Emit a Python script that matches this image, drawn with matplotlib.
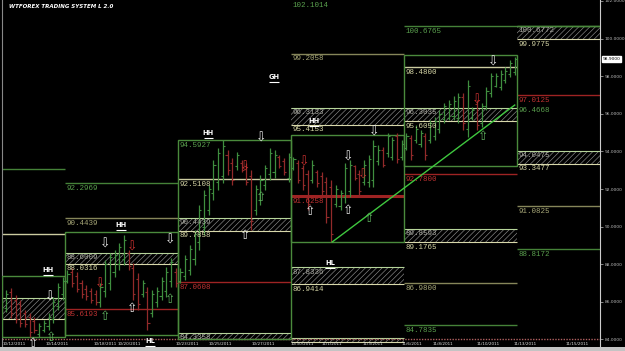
import matplotlib
matplotlib.use("Agg")
import matplotlib.pyplot as plt
from matplotlib.patches import Rectangle
import matplotlib.transforms as mtrans

# ---------------- data ----------------
# OHLC bars per week (price units)
week0_ohlc = [
    (85.7, 86.63, 85.46, 86.4), (86.5, 86.73, 85.14, 85.4), (86.1, 86.36, 84.87, 85.1),
    (85.9, 86.10, 84.66, 84.9), (85.4, 85.56, 84.66, 84.8), (85.2, 85.40, 84.13, 84.4),
    (85.0, 85.19, 84.34, 84.5), (84.3, 84.87, 84.13, 84.7), (84.5, 85.03, 84.39, 84.9),
    (84.7, 85.40, 84.50, 85.2), (85.1, 86.25, 84.87, 86.0), (85.8, 87.00, 85.56, 86.8),
    (86.4, 87.32, 86.10, 87.1)]
week1_ohlc = [
    (87.1, 87.69, 87.00, 87.5), (87.6, 87.80, 86.79, 87.0), (87.4, 87.58, 86.52, 86.7),
    (87.0, 87.16, 86.20, 86.4), (86.7, 86.89, 86.10, 86.3), (86.6, 86.73, 85.94, 86.1),
    (86.4, 86.63, 85.83, 86.0), (86.0, 87.00, 85.72, 86.8), (86.6, 88.22, 86.25, 88.0),
    (87.0, 88.60, 86.63, 88.4), (87.6, 88.76, 87.32, 88.5), (88.0, 89.13, 87.69, 88.9),
    (88.3, 89.55, 87.95, 89.3), (88.6, 88.76, 87.69, 87.9), (87.8, 88.06, 86.10, 86.4),
    (87.2, 87.53, 85.56, 85.9), (86.4, 87.16, 86.25, 87.0), (86.5, 86.79, 84.50, 84.9),
    (85.4, 86.63, 85.19, 86.4), (86.0, 86.79, 85.72, 86.6), (86.3, 87.32, 86.10, 87.1),
    (86.6, 87.85, 86.25, 87.6), (87.1, 88.33, 86.79, 88.1), (87.6, 87.80, 86.79, 87.0)]
week2_ohlc = [
    (87.1, 87.80, 87.00, 87.6), (87.4, 88.49, 87.16, 88.3), (87.7, 89.02, 87.43, 88.8),
    (88.3, 89.82, 87.95, 89.6), (89.2, 91.15, 88.76, 90.9), (90.0, 91.95, 89.55, 91.7),
    (90.9, 92.21, 90.62, 92.0), (91.8, 93.54, 91.41, 93.3), (92.4, 94.18, 91.95, 93.9),
    (92.7, 94.61, 92.32, 94.3), (93.8, 94.07, 92.74, 93.0), (93.4, 93.65, 92.21, 92.5),
    (93.2, 93.97, 93.01, 93.8), (93.4, 93.54, 92.90, 93.0), (93.2, 93.38, 92.21, 92.4),
    (92.7, 93.01, 89.82, 90.3), (90.9, 92.21, 90.62, 92.0), (91.4, 92.74, 91.15, 92.5),
    (92.2, 93.28, 91.95, 93.1), (92.8, 94.18, 92.48, 93.9), (92.9, 94.07, 92.58, 93.8),
    (93.7, 93.81, 93.12, 93.2), (93.5, 93.65, 92.74, 92.9), (92.6, 93.92, 92.37, 93.7)]
week3_ohlc = [
    (93.1, 93.70, 93.01, 93.6), (93.4, 93.54, 92.32, 92.5), (93.1, 93.28, 91.95, 92.2),
    (92.8, 93.01, 90.88, 91.2), (92.5, 93.54, 92.32, 93.3), (92.9, 93.01, 92.11, 92.3),
    (92.7, 92.90, 91.68, 91.9), (92.4, 92.64, 90.19, 90.5), (92.1, 92.48, 89.18, 89.6),
    (91.2, 92.21, 91.04, 92.0), (91.1, 91.95, 90.88, 91.8), (91.6, 93.38, 91.25, 93.1),
    (91.9, 93.54, 91.57, 93.3), (93.2, 93.28, 92.48, 92.6), (92.8, 93.01, 91.57, 91.9),
    (92.4, 93.54, 92.21, 93.3), (92.4, 93.81, 92.11, 93.6), (92.5, 94.61, 92.11, 94.3),
    (93.5, 94.34, 93.28, 94.1), (94.1, 94.23, 93.17, 93.3), (93.9, 94.98, 93.70, 94.8),
    (93.7, 94.77, 93.54, 94.6), (94.8, 94.98, 93.38, 93.6), (93.7, 94.61, 93.54, 94.4)]
week4_ohlc = [
    (94.2, 94.98, 94.07, 94.8), (94.7, 94.87, 93.54, 93.8), (94.6, 95.40, 94.45, 95.2),
    (94.4, 95.14, 94.23, 95.0), (94.8, 94.98, 93.54, 93.8), (94.6, 95.67, 94.45, 95.5),
    (94.8, 95.83, 94.61, 95.6), (95.2, 96.20, 94.98, 96.0), (95.7, 96.57, 95.51, 96.4),
    (95.8, 96.73, 95.67, 96.5), (95.9, 96.95, 95.67, 96.7), (95.8, 97.10, 95.51, 96.9),
    (96.9, 97.10, 95.14, 95.5), (95.2, 97.80, 94.77, 97.5), (95.8, 96.36, 95.67, 96.2),
    (96.5, 96.73, 95.14, 95.4), (95.5, 96.57, 95.30, 96.4), (96.4, 97.42, 96.20, 97.2),
    (97.1, 98.17, 96.89, 98.0), (97.5, 98.17, 97.42, 98.0), (97.4, 98.33, 97.26, 98.1),
    (97.8, 98.49, 97.64, 98.3), (98.1, 98.86, 97.96, 98.7), (98.2, 99.02, 98.06, 98.9)]
weeks_ohlc = [week0_ohlc, week1_ohlc, week2_ohlc, week3_ohlc, week4_ohlc]

# weekly boxes: (week, top, bottom)
box_week = [0, 1, 2, 3, 4]
box_top = [87.37, 89.72, 94.5927, 94.87, 99.13]
box_bottom = [84.13, 84.23, 84.00, 89.18, 93.22]

# level lines: week (5 = projection), price, kind, labelled
line_week = [0, 0, 1, 1, 1, 2, 2, 3, 3, 4, 4, 4, 4, 4, 5, 5, 5, 5]
line_price = [93.06, 89.61, 92.2969, 90.4439, 85.6193, 92.5108, 87.0608, 99.2058, 91.6258,
              100.6765, 98.4800, 92.7800, 86.9800, 84.7835, 100.6765, 97.0125, 91.0825, 88.8172]
line_kind = ["g", "y", "g", "o", "r", "y", "r", "o", "r2", "g", "y", "r", "o", "g", "g", "r", "o", "g"]
line_labelled = [0, 0, 1, 1, 1, 1, 1, 1, 1, 1, 1, 1, 1, 1, 0, 1, 1, 1]

# hatched zones: week, top, bottom, labelled (2 = both values, 1 = top only, 0 = none)
zone_week = [0, 1, 2, 2, 3, 3, 3, 4, 4, 5, 5]
zone_top = [86.20, 88.6009, 90.4439, 84.3358, 96.3133, 87.8336, 84.06, 96.3035, 89.8593, 100.6772, 94.0475]
zone_bottom = [85.09, 88.0316, 89.7858, 84.00, 95.4153, 86.9414, 83.88, 95.6050, 89.1765, 99.9775, 93.3477]
zone_labelled = [0, 2, 2, 1, 2, 2, 0, 2, 2, 2, 2]

# trend line (bar index, price)
trend_x = [56.7, 95.5]
trend_y = [89.18, 96.4668]

# signal arrows: bar index, price, direction, colour
arrow_x = [-3.2, -3.0, -6.8, 8.5, 14.2, 22.3, 7.4, 14.2, 8.5, 22.3, 41.6, 38.2, 41.6, 38.2,
           50.7, 60.1, 63.3, 52.0, 60.1, 64.5, 65.6, 90.9, 87.5, 88.7]
arrow_y = [86.26, 84.13, 83.80, 89.07, 88.91, 89.29, 86.95, 85.67, 85.24, 86.15, 94.71, 93.17, 91.57, 89.55,
           93.44, 93.70, 92.74, 90.78, 90.88, 90.46, 95.03, 98.76, 96.73, 94.77]
arrow_dir = ["d", "u", "u", "d", "d", "d", "d", "u", "u", "u", "d", "d", "u", "u",
             "d", "d", "d", "u", "u", "u", "d", "d", "d", "u"]
arrow_col = ["w", "g", "w", "w", "r", "w", "r", "w", "g", "g", "w", "r", "g", "w",
             "r", "w", "r", "w", "w", "g", "w", "w", "r", "g"]

# swing labels
swing_text = ["HH", "HH", "HH", "GH", "HH", "HL", "HL"]
swing_x = [-3.6, 11.9, 30.4, 44.4, 52.9, 56.3, 18.0]
swing_y = [87.69, 90.09, 94.98, 97.96, 95.62, 88.06, 83.92]

# date labels
date_text = ["10/12/2011", "10/14/2011", "10/18/2011", "10/20/2011", "10/23/2011", "10/25/2011",
             "10/27/2011", "10/30/2011", "11/1/2011", "11/3/2011", "11/6/2011", "11/8/2011",
             "11/10/2011", "11/13/2011", "11/15/2011"]
date_x = [-10.8, -1.7, 8.5, 13.6, 25.9, 32.9, 42.0, 50.3, 56.7, 65.4, 73.7, 80.3, 89.8, 97.7, 108.7]

price_ticks = [84, 86, 88, 90, 92, 94, 96, 98, 100, 102]
last_price = 98.9000
top_label = 102.1014

# ---------------- styling ----------------
GREEN = "#4a8a3c"
TREND = "#3fc83f"
YEL = "#d8d8aa"
OLIVE = "#8e8e60"
RED = "#a82626"
BAR_G = "#3f8e3f"
BAR_R = "#922a2a"
col_map = {"g": GREEN, "y": YEL, "o": OLIVE, "r": RED, "r2": RED}
lab_map = {"g": "#5aa04e", "y": "#d6d6a6", "o": "#a8a878", "r": "#c03232", "r2": "#c03232"}
arrow_cmap = {"w": "#e8e8e8", "g": "#5fb05f", "r": "#c83030"}
FONT = "Liberation Mono"
LFS = 5.4

week_edges = [-13.4, 0, 24, 48, 72, 96, 113.5]
BPW = 24

plt.rcParams["hatch.linewidth"] = 0.45

fig = plt.figure(figsize=(6.25, 3.51), dpi=100, facecolor="black")
ax = fig.add_axes([2 / 625, 4 / 351, 597.5 / 625, 347 / 351])
ax.set_facecolor("black")
ax.set_xlim(week_edges[0], week_edges[-1])
ax.set_ylim(83.60, 102.053)

# bottom grey strip
fig.patches.append(Rectangle((0, 0), 1, 4 / 351, transform=fig.transFigure,
                             facecolor="#c4c4c4", edgecolor="none"))

# hatched zones
for w, t, b, lab in zip(zone_week, zone_top, zone_bottom, zone_labelled):
    x0, x1 = week_edges[w], week_edges[w + 1]
    ax.add_patch(Rectangle((x0, b), x1 - x0, t - b, facecolor="black",
                           edgecolor="#8c8c8c", hatch="//////", lw=0, zorder=1))
    ax.hlines(t, x0, x1, color="#b6d49a", lw=0.8, zorder=2)
    ax.hlines(b, x0, x1, color=YEL, lw=0.8, zorder=2)
    if lab >= 1:
        ax.text(x0 + 0.3, t - 0.06, f"{t:.4f}", color="#a8a8a0", fontsize=LFS,
                family=FONT, va="top", ha="left", zorder=5)
    if lab == 2:
        ax.text(x0 + 0.3, b - 0.08, f"{b:.4f}", color="#d6d6a6", fontsize=LFS,
                family=FONT, va="top", ha="left", zorder=5)

# level lines
for w, p, k, lab in zip(line_week, line_price, line_kind, line_labelled):
    x0, x1 = week_edges[w], week_edges[w + 1]
    if w == 4 and p == 100.6765:
        x1 = week_edges[-1]
    lw = 2.2 if k == "r2" else 1.0
    ax.hlines(p, x0, x1, color=col_map[k], lw=lw, zorder=2, alpha=0.95)
    if lab:
        ax.text(x0 + 0.3, p - 0.1, f"{p:.4f}", color=lab_map[k], fontsize=LFS,
                family=FONT, va="top", ha="left", zorder=5)

# weekly boxes
for w, t, b in zip(box_week, box_top, box_bottom):
    x0, x1 = week_edges[w], week_edges[w + 1]
    ax.add_patch(Rectangle((x0, b), x1 - x0, t - b, fill=False, edgecolor=GREEN,
                           lw=1.0, zorder=3))
ax.text(week_edges[2] + 0.3, box_top[2] - 0.1, f"{box_top[2]:.4f}", color=lab_map["g"],
        fontsize=LFS, family=FONT, va="top", ha="left", zorder=5)

# bars
for w, data in enumerate(weeks_ohlc):
    start = -len(data) if w == 0 else (w - 1) * BPW
    for j, (o, h, l, c) in enumerate(data):
        x = start + j + 0.5
        col = BAR_G if c >= o else BAR_R
        ax.vlines(x, l, h, color=col, lw=0.9, zorder=4)
        ax.hlines(o, x - 0.45, x, color=col, lw=0.8, zorder=4)
        ax.hlines(c, x, x + 0.45, color=col, lw=0.8, zorder=4)

# trend line
ax.plot(trend_x, trend_y, color=TREND, lw=1.0, zorder=5)
ax.text(week_edges[5] + 0.3, trend_y[1] - 0.1, f"{trend_y[1]:.4f}", color=lab_map["g"],
        fontsize=LFS, family=FONT, va="top", ha="left", zorder=5)

# arrows
for x, y, d, c in zip(arrow_x, arrow_y, arrow_dir, arrow_col):
    ax.text(x, y, "\u21e9" if d == "d" else "\u21e7", color=arrow_cmap[c], fontsize=9,
            family="DejaVu Sans", ha="center", va="center", zorder=6)

# swing labels
for t, x, y in zip(swing_text, swing_x, swing_y):
    ax.text(x, y, t, color="white", fontsize=4.8, fontweight="bold",
            family="DejaVu Sans", ha="center", va="center", zorder=6)
    ax.hlines(y - 0.28, x - 1.0, x + 1.0, color="white", lw=0.8, zorder=6)

# top label
ax.text(week_edges[3] + 0.3, top_label - 0.16, f"{top_label:.4f}", color=lab_map["g"],
        fontsize=LFS, family=FONT, va="top", ha="left", zorder=5)

# bottom dotted line
ax.axhline(84.02, color="#b06060", lw=1.0, ls=(0, (1, 1)), zorder=2)

# date labels
for t, x in zip(date_text, date_x):
    ax.text(x, 83.74, t, color="#e0e0e0", fontsize=3.0, family="DejaVu Sans",
            ha="center", va="center", zorder=6)

# title
ax.text(0.012, 0.988, "WTFOREX TRADING SYSTEM L 2.0", transform=ax.transAxes,
        color="white", fontsize=4.0, fontweight="bold", style="italic",
        family="DejaVu Sans", ha="left", va="top")

# axes styling
for s in ["top", "bottom"]:
    ax.spines[s].set_visible(False)
ax.spines["left"].set_color("#888888")
ax.spines["right"].set_color("#cccccc")
ax.spines["right"].set_linewidth(0.8)
ax.set_xticks([])
ax.yaxis.tick_right()
ax.set_yticks(price_ticks)
ax.set_yticklabels([f"{v:.4f}" for v in price_ticks])
ax.tick_params(axis="y", colors="#bbbbbb", labelsize=3.2, length=2, width=0.5, pad=1.5)

# last price box
tr = mtrans.blended_transform_factory(ax.transAxes, ax.transData)
ax.text(1.005, last_price, f"{last_price:.4f}", transform=tr, color="black", fontsize=3.2,
        ha="left", va="center", bbox=dict(facecolor="white", edgecolor="white", pad=0.6),
        zorder=7, clip_on=False)

fig.savefig("out.png", dpi=100, facecolor="black")
